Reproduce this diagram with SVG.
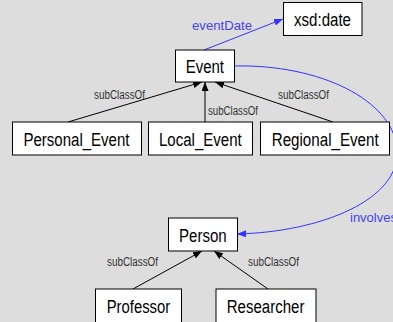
<svg xmlns="http://www.w3.org/2000/svg" width="393" height="322" viewBox="0 0 393 322">
<defs>
<style>
.node rect{fill:#fff;stroke:#000;stroke-width:1}
.node text{font-family:"Liberation Sans",Arial,sans-serif;font-size:18px;fill:#000}
.lbl{font-family:"Liberation Sans",Arial,sans-serif;font-size:12px;fill:#333}
.blbl{font-family:"Liberation Sans",Arial,sans-serif;font-size:13px;fill:#4444ee}
.e{fill:none;stroke:#000;stroke-width:1}
.b{fill:none;stroke:#3333ff;stroke-width:1}
</style>
<marker id="ak" markerUnits="userSpaceOnUse" markerWidth="9" markerHeight="7" refX="9" refY="3.5" orient="auto"><path d="M0,0 L9,3.5 L0,7 z" fill="#000"/></marker>
<marker id="ab" markerUnits="userSpaceOnUse" markerWidth="9" markerHeight="7" refX="9" refY="3.5" orient="auto"><path d="M0,0 L9,3.5 L0,7 z" fill="#3333ff"/></marker>
</defs>
<rect x="0" y="0" width="393" height="322" fill="#dddddd"/>
<g id="edges">
<path class="e" d="M68,122 L202,82" marker-end="url(#ak)"/>
<path class="e" d="M205,122 L205,82" marker-end="url(#ak)"/>
<path class="e" d="M333,122 L215,82" marker-end="url(#ak)"/>
<path class="e" d="M133,289 L202,251" marker-end="url(#ak)"/>
<path class="e" d="M268,289 L214,251" marker-end="url(#ak)"/>
<path class="b" d="M204,50 L283,19" marker-end="url(#ab)"/>
<path class="b" d="M234,66 C320,64 392,100 397,148 C402,200 320,232 237,234" marker-end="url(#ab)"/>
<text class="lbl" x="94" y="99" textLength="51" lengthAdjust="spacingAndGlyphs">subClassOf</text>
<text class="lbl" x="208" y="115" textLength="50" lengthAdjust="spacingAndGlyphs">subClassOf</text>
<text class="lbl" x="278" y="99" textLength="51" lengthAdjust="spacingAndGlyphs">subClassOf</text>
<text class="lbl" x="107" y="265.5" textLength="51" lengthAdjust="spacingAndGlyphs">subClassOf</text>
<text class="lbl" x="248" y="265.5" textLength="51" lengthAdjust="spacingAndGlyphs">subClassOf</text>
<text class="blbl" x="192" y="30" textLength="60" lengthAdjust="spacingAndGlyphs">eventDate</text>
<text class="blbl" x="350" y="222">involves</text>
</g>
<g id="xsd_date" class="node"><rect x="283.5" y="2.5" width="78.5" height="33"/><text x="294" y="26" textLength="57" lengthAdjust="spacingAndGlyphs">xsd:date</text></g>
<g id="Event" class="node"><rect x="175.5" y="50" width="59" height="32"/><text x="185.7" y="73" textLength="38.3" lengthAdjust="spacingAndGlyphs">Event</text></g>
<g id="Personal_Event" class="node"><rect x="12.5" y="122" width="129" height="33"/><text x="23.5" y="145.5" textLength="106" lengthAdjust="spacingAndGlyphs">Personal_Event</text></g>
<g id="Local_Event" class="node"><rect x="148.5" y="122" width="104" height="33"/><text x="159" y="145.5" textLength="82.7" lengthAdjust="spacingAndGlyphs">Local_Event</text></g>
<g id="Regional_Event" class="node"><rect x="260.5" y="122" width="129" height="33"/><text x="271.7" y="145.5" textLength="107" lengthAdjust="spacingAndGlyphs">Regional_Event</text></g>
<g id="Person" class="node"><rect x="168.5" y="218" width="69" height="33"/><text x="179" y="241.7" textLength="47.7" lengthAdjust="spacingAndGlyphs">Person</text></g>
<g id="Professor" class="node"><rect x="95.5" y="289" width="86" height="40"/><text x="106.7" y="313.3" textLength="63.5" lengthAdjust="spacingAndGlyphs">Professor</text></g>
<g id="Researcher" class="node"><rect x="216" y="289" width="100" height="40"/><text x="226.7" y="313.3" textLength="77.7" lengthAdjust="spacingAndGlyphs">Researcher</text></g>
</svg>
